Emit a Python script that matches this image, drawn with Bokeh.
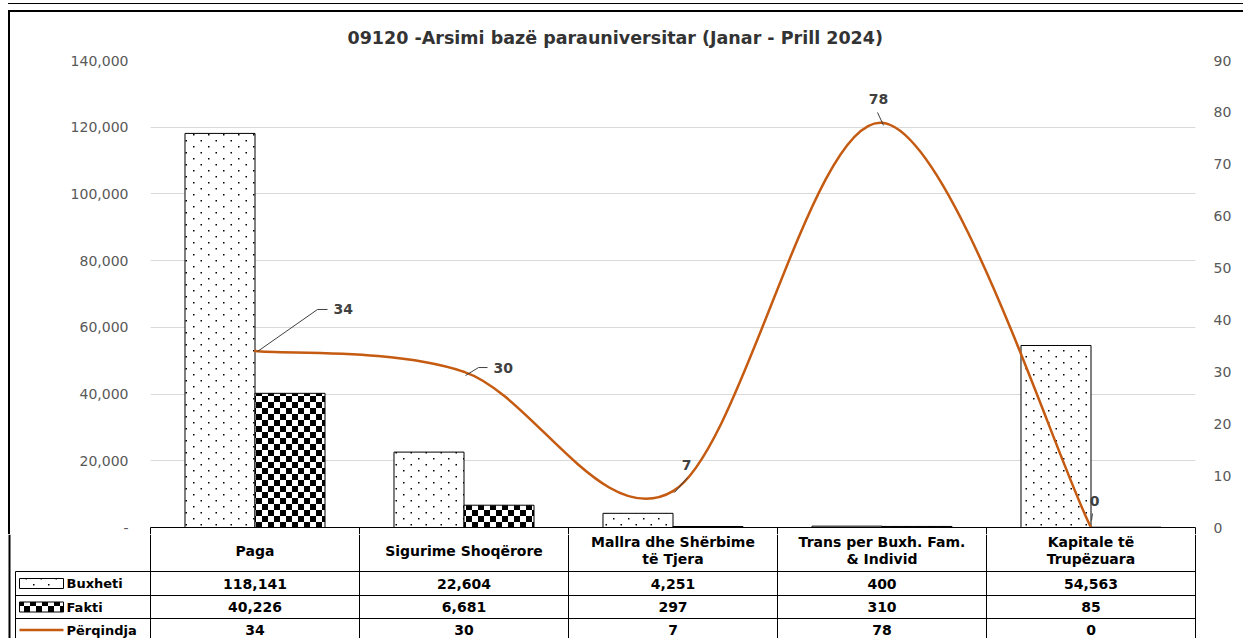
from bokeh.plotting import figure
from bokeh.layouts import column, row
from bokeh.models import (Range1d, LinearAxis, FixedTicker, CustomJSTickFormatter, Grid,
                          ColumnDataSource, ImageURLTexture, Div, GlobalInlineStyleSheet)
from bokeh.core.properties import value
from bokeh.embed import file_html
from bokeh.resources import INLINE

# ---------------- data ----------------
TITLE = "09120 -Arsimi bazë parauniversitar (Janar - Prill 2024)"
categories = ["Paga", "Sigurime Shoqërore", "Mallra dhe Shërbime\ntë Tjera",
              "Trans per Buxh. Fam.\n& Individ", "Kapitale të\nTrupëzuara"]
buxheti = [118141, 22604, 4251, 400, 54563]
fakti = [40226, 6681, 297, 310, 85]
perqindja = [34, 30, 7, 78, 0]
series_names = ["Buxheti", "Fakti", "Përqindja"]
left_ticks = [0, 20000, 40000, 60000, 80000, 100000, 120000, 140000]
right_ticks = [0, 10, 20, 30, 40, 50, 60, 70, 80, 90]

# ---------------- style / layout ----------------
FONT = "DejaVu Sans"
ORANGE = "#C55A11"
W = 1243
FRAME_L, FRAME_R, FRAME_T, FRAME_B = 150, 1195, 60, 527   # page px
MAIN_X0 = 10
MAIN_TOP, MAIN_BOT = 12, 534
N = len(categories)
CAT_W = (FRAME_R - FRAME_L) / N
PCT_PX = (FRAME_B - FRAME_T) / right_ticks[-1]
BAR_W = 0.335

idx = [i + 1 for i in range(N)]

SVG_HEAD = "data:image/svg+xml;utf8,<svg xmlns='http://www.w3.org/2000/svg' "
dots_tex = ImageURLTexture(url=(
    SVG_HEAD + "width='15' height='12'>"
    "<rect x='3' y='2' width='1.5' height='1.5' fill='black'/>"
    "<rect x='10.5' y='8' width='1.5' height='1.5' fill='black'/></svg>"))
checker_tex = ImageURLTexture(url=(
    SVG_HEAD + "width='12' height='12'>"
    "<rect width='6' height='6' fill='black'/>"
    "<rect x='6' y='6' width='6' height='6' fill='black'/></svg>"))
HATCH = {"buxheti": dots_tex, "fakti": checker_tex}

# ---------------- main chart ----------------
p = figure(width=W - MAIN_X0, height=MAIN_BOT - MAIN_TOP,
           x_range=Range1d(0.5, N + 0.5), y_range=Range1d(0, left_ticks[-1]),
           x_axis_type=None, y_axis_type=None,
           output_backend="svg", toolbar_location=None,
           min_border_left=FRAME_L - MAIN_X0, min_border_right=W - FRAME_R,
           min_border_top=FRAME_T - MAIN_TOP, min_border_bottom=MAIN_BOT - FRAME_B,
           title=TITLE)
p.outline_line_color = None
p.background_fill_color = "white"
p.border_fill_color = "white"
p.extra_y_ranges = {"pct": Range1d(0, right_ticks[-1])}

p.title.align = "left"
p.title.offset = 197
p.title.text_font = FONT
p.title.text_font_size = "17.5px"
p.title.text_font_style = "bold"
p.title.text_color = "#333333"
p.title.standoff = 25

p.add_layout(Grid(dimension=1, ticker=FixedTicker(ticks=left_ticks[1:]),
                  grid_line_color="#d9d9d9", grid_line_width=1))

left_axis = LinearAxis(
    ticker=FixedTicker(ticks=left_ticks),
    formatter=CustomJSTickFormatter(code=r"return tick == 0 ? '-' : tick.toFixed(0).replace(/\B(?=(\d{3})+(?!\d))/g, ',');"),
    axis_line_color=None, major_tick_line_color=None, minor_tick_line_color=None,
    major_tick_out=0, major_tick_in=0, minor_tick_out=0, minor_tick_in=0,
    major_label_standoff=22, major_label_text_font=FONT,
    major_label_text_font_size="14px", major_label_text_color="#595959")
p.add_layout(left_axis, "left")

right_axis = LinearAxis(
    y_range_name="pct", ticker=FixedTicker(ticks=right_ticks),
    axis_line_color=None, major_tick_line_color=None, minor_tick_line_color=None,
    major_tick_out=0, major_tick_in=0, minor_tick_out=0, minor_tick_in=0,
    major_label_standoff=18, major_label_text_font=FONT,
    major_label_text_font_size="14px", major_label_text_color="#595959")
p.add_layout(right_axis, "right")

bottom_axis = LinearAxis(
    ticker=FixedTicker(ticks=[i + 0.5 for i in range(N + 1)]),
    formatter=CustomJSTickFormatter(code="return '';"),
    axis_line_color="black", axis_line_width=1,
    major_tick_out=MAIN_BOT - FRAME_B, major_tick_in=0, major_tick_line_color="black",
    minor_tick_line_color=None, minor_tick_out=0, minor_tick_in=0,
    major_label_standoff=0, major_label_text_font_size="0px")
p.add_layout(bottom_axis, "below")

src = ColumnDataSource(dict(
    xb=[i - BAR_W / 2 for i in idx], xf=[i + BAR_W / 2 for i in idx],
    bux=buxheti, fak=fakti))
p.vbar(x="xb", top="bux", width=BAR_W, source=src, fill_color="white",
       line_color="black", line_width=1,
       hatch_pattern=value("buxheti"), hatch_extra=HATCH, hatch_color="black")
p.vbar(x="xf", top="fak", width=BAR_W, source=src, fill_color="white",
       line_color="black", line_width=1,
       hatch_pattern=value("fakti"), hatch_extra=HATCH, hatch_color="black")

# smoothed percentage line (cubic Bezier through the data points)
bz = dict(x0=[], y0=[], x1=[], y1=[], cx0=[], cy0=[], cx1=[], cy1=[])
for i in range(N - 1):
    xp, yp = (idx[i - 1], perqindja[i - 1]) if i > 0 else (idx[i], perqindja[i])
    xa, ya = idx[i], perqindja[i]
    xb, yb = idx[i + 1], perqindja[i + 1]
    xn, yn = (idx[i + 2], perqindja[i + 2]) if i + 2 < N else (xb, yb)
    bz["x0"].append(xa); bz["y0"].append(ya)
    bz["x1"].append(xb); bz["y1"].append(yb)
    bz["cx0"].append(xa + (xb - xp) / 6); bz["cy0"].append(ya + (yb - yp) / 6)
    bz["cx1"].append(xb - (xn - xa) / 6); bz["cy1"].append(yb - (yn - ya) / 6)
p.bezier(x0="x0", y0="y0", x1="x1", y1="y1", cx0="cx0", cy0="cy0", cx1="cx1", cy1="cy1",
         source=ColumnDataSource(bz), y_range_name="pct",
         line_color=ORANGE, line_width=2.5, line_cap="round")

# data labels with leader lines (offsets in screen px)
lab_dx = [78.5, 29.5, 13.5, -3.5, 3.5]
lab_dy = [-41.6, -4.3, -25.7, -23.3, -27]
lab_align = ["left", "left", "center", "center", "center"]
leaders = [[(2.5, 0.4), (62.5, -41.6), (72.5, -41.6)],
           [(1.5, 3.7), (14.5, -4.3), (23.5, -4.3)],
           [(1.5, 1.3), (14.5, -13.7)],
           [(1.5, 2.7), (-4.5, -10.3)],
           [(0.5, -7), (1.5, -14)]]
p.text(x=[idx[i] + lab_dx[i] / CAT_W for i in range(N)],
       y=[perqindja[i] - lab_dy[i] / PCT_PX for i in range(N)],
       text=[str(v) for v in perqindja], text_align=lab_align, text_baseline="middle",
       y_range_name="pct", text_font=value(FONT), text_font_size="14px",
       text_font_style="bold", text_color="#404040")
p.multi_line(xs=[[idx[i] + dx / CAT_W for dx, dy in leaders[i]] for i in range(N)],
             ys=[[perqindja[i] - dy / PCT_PX for dx, dy in leaders[i]] for i in range(N)],
             y_range_name="pct", line_color="#404040", line_width=1)

# ---------------- data table ----------------
T_TOP = MAIN_BOT
T_H = 638 - T_TOP


def px2x(px):
    return 0.5 + (px - FRAME_L) / CAT_W


def py2y(py):
    return py - T_TOP


t = figure(width=W, height=T_H, x_range=Range1d(px2x(0), px2x(W)),
           y_range=Range1d(T_H, 0), x_axis_type=None, y_axis_type=None,
           output_backend="svg", toolbar_location=None, min_border=0)
t.outline_line_color = None
t.background_fill_color = "white"
t.border_fill_color = "white"

ROW_LINES = [571, 595, 618, 641]
ROW_Y = [583, 606.5, 629.5]
HEAD_Y = 550
HEAD_LINE = 17
LEG_L = 15

t.segment(x0=[i + 0.5 for i in range(N + 1)], y0=[0] * (N + 1),
          x1=[i + 0.5 for i in range(N + 1)], y1=[py2y(ROW_LINES[-1])] * (N + 1),
          line_color="black", line_width=1)
t.segment(x0=[px2x(LEG_L)], y0=[py2y(ROW_LINES[0])], x1=[px2x(LEG_L)], y1=[py2y(ROW_LINES[-1])],
          line_color="black", line_width=1)
t.segment(x0=[px2x(LEG_L)] * len(ROW_LINES), y0=[py2y(v) for v in ROW_LINES],
          x1=[N + 0.5] * len(ROW_LINES), y1=[py2y(v) for v in ROW_LINES],
          line_color="black", line_width=1)
t.segment(x0=[px2x(9)], y0=[0], x1=[px2x(9)], y1=[T_H], line_color="black", line_width=2)

# headers (one text per line, centred on the header row)
hx, hy, ht = [], [], []
for i, c in enumerate(categories):
    lines = c.split("\n")
    for j, ln in enumerate(lines):
        hx.append(idx[i])
        hy.append(py2y(HEAD_Y + (j - (len(lines) - 1) / 2) * HEAD_LINE))
        ht.append(ln)
t.text(x=hx, y=hy, text=ht, text_align="center", text_baseline="middle",
       text_font=value(FONT), text_font_size="14px", text_font_style="bold", text_color="black")

for vals, ry in zip([buxheti, fakti, perqindja], ROW_Y):
    t.text(x=idx, y=[py2y(ry)] * N, text=["{:,}".format(v) for v in vals],
           text_align="center", text_baseline="middle", text_font=value(FONT),
           text_font_size="14px", text_font_style="bold", text_color="black")

t.text(x=[px2x(66)] * 3, y=[py2y(v) for v in ROW_Y], text=series_names,
       text_align="left", text_baseline="middle", text_font=value(FONT),
       text_font_size="13px", text_font_style="bold", text_color="black")
t.quad(left=[px2x(19)], right=[px2x(63)], top=[py2y(ROW_Y[0] - 5)], bottom=[py2y(ROW_Y[0] + 5)],
       fill_color="white", line_color="black", line_width=1,
       hatch_pattern=value("buxheti"), hatch_extra=HATCH, hatch_color="black")
t.quad(left=[px2x(19)], right=[px2x(63)], top=[py2y(ROW_Y[1] - 5)], bottom=[py2y(ROW_Y[1] + 5)],
       fill_color="white", line_color="black", line_width=1,
       hatch_pattern=value("fakti"), hatch_extra=HATCH, hatch_color="black")
t.segment(x0=[px2x(19)], y0=[py2y(ROW_Y[2])], x1=[px2x(63)], y1=[py2y(ROW_Y[2])],
          line_color=ORANGE, line_width=2.5)

# ---------------- page assembly ----------------
sheet_line = Div(text="", width=W - 8, height=1, margin=(3, 0, 0, 8),
                 styles={"background-color": "black"})
top_border = Div(text="", width=W - 8, height=2, margin=(6, 0, 0, 8),
                 styles={"background-color": "black"})
left_border = Div(text="", width=2, height=MAIN_BOT - MAIN_TOP, margin=(0, 0, 0, 8),
                  styles={"background-color": "black"})
layout = column(sheet_line, top_border, row(left_border, p, spacing=0), t, spacing=0,
                stylesheets=[GlobalInlineStyleSheet(css="html, body { overflow: hidden !important; }")])

open("out.html", "w").write(file_html(layout, INLINE))
